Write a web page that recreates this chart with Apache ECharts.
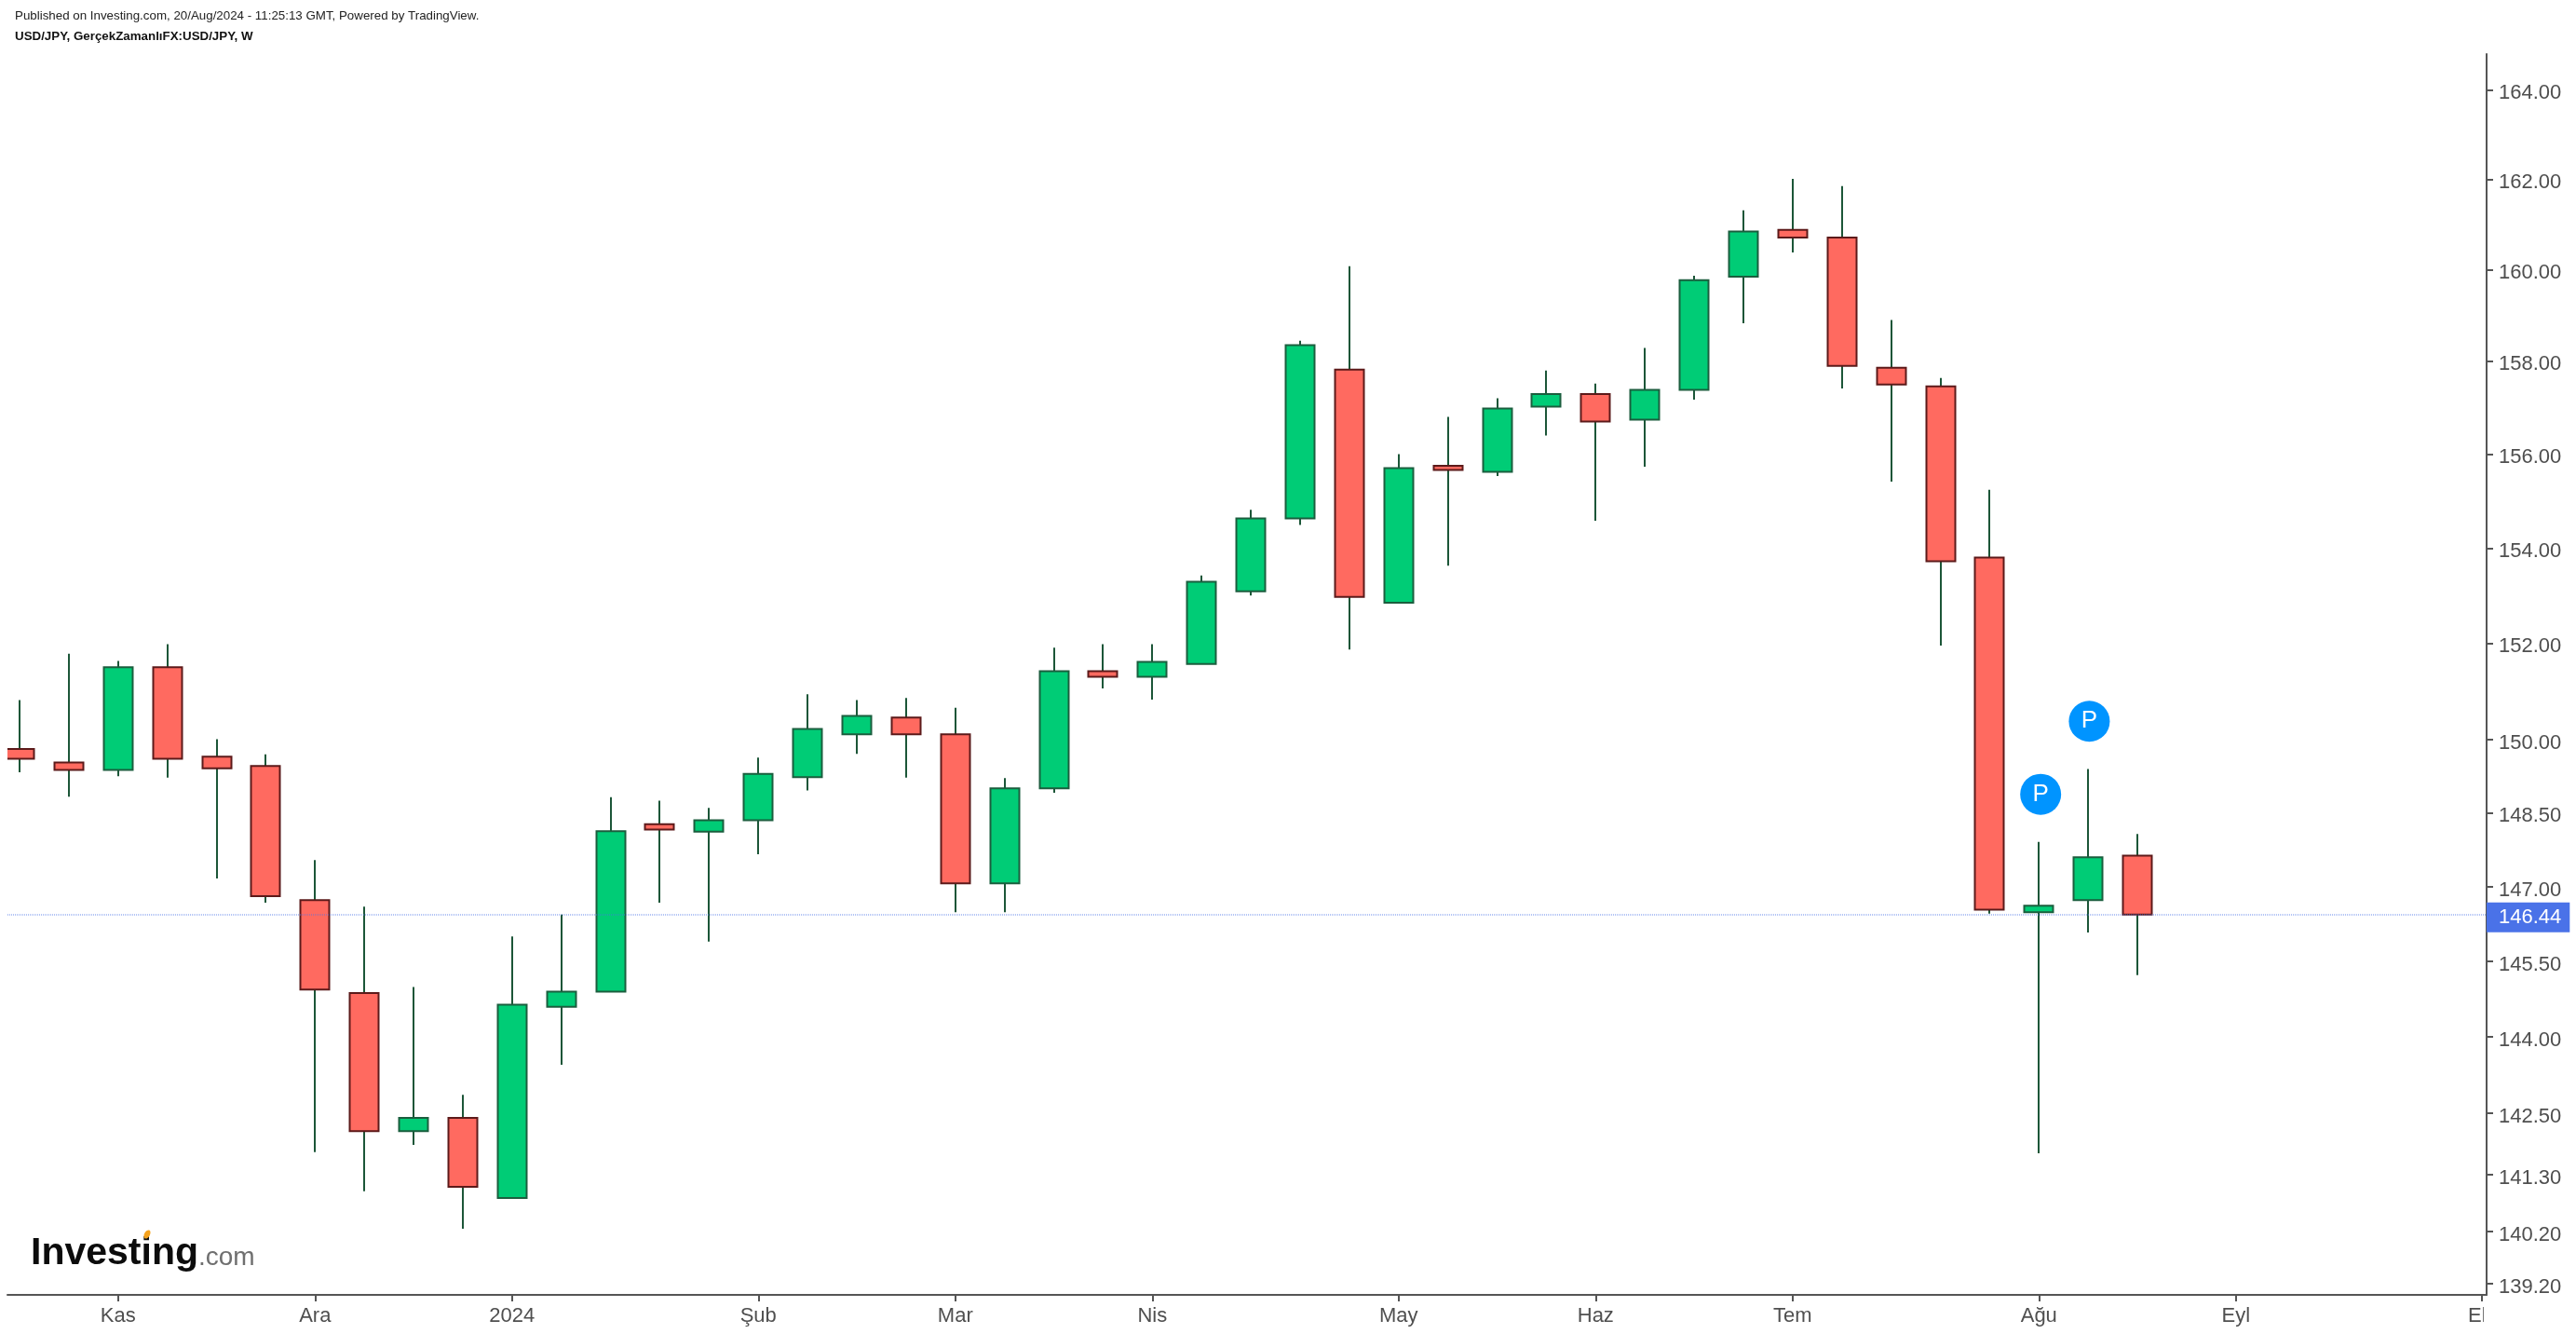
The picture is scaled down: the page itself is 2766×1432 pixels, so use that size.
<!DOCTYPE html>
<html>
<head>
<meta charset="utf-8">
<title>USD/JPY</title>
<script src="https://cdn.jsdelivr.net/npm/echarts@6/dist/echarts.min.js"></script>
<style>
  html, body { margin: 0; padding: 0; background: #fff; }
  #chart { width: 2766px; height: 1432px; }
</style>
</head>
<body>
<div id="chart"></div>
<script>
// haftalik mumlar
const weeks = ['2023-10-23','2023-10-30','2023-11-06','2023-11-13','2023-11-20','2023-11-27','2023-12-04','2023-12-11','2023-12-18','2023-12-25','2024-01-01','2024-01-08','2024-01-15','2024-01-22','2024-01-29','2024-02-05','2024-02-12','2024-02-19','2024-02-26','2024-03-04','2024-03-11','2024-03-18','2024-03-25','2024-04-01','2024-04-08','2024-04-15','2024-04-22','2024-04-29','2024-05-06','2024-05-13','2024-05-20','2024-05-27','2024-06-03','2024-06-10','2024-06-17','2024-06-24','2024-07-01','2024-07-08','2024-07-15','2024-07-22','2024-07-29','2024-08-05','2024-08-12','2024-08-19'];
const opens = [149.81,149.53,149.38,151.50,149.65,149.46,146.73,144.87,142.15,142.41,140.85,144.60,144.90,148.27,148.12,148.35,149.23,150.11,150.46,150.11,147.07,149.00,151.42,151.30,151.57,153.09,154.63,157.82,152.85,155.75,155.62,157.02,157.29,156.74,157.38,159.85,160.88,160.71,157.86,157.46,153.80,146.49,146.73,147.63];
const closes = [149.61,149.38,151.50,149.61,149.41,146.81,144.94,142.15,142.41,141.07,144.64,144.90,148.13,148.16,148.35,149.30,150.22,150.49,150.11,147.07,149.00,151.42,151.30,151.61,153.29,154.63,158.35,152.97,155.70,155.66,156.98,157.29,156.70,157.38,159.77,160.84,160.71,157.90,157.50,153.72,146.54,146.62,147.60,146.44];
const lows = [149.33,148.83,149.25,149.22,147.17,146.68,141.74,140.98,141.88,140.26,140.85,143.45,144.90,146.68,145.90,147.66,148.96,149.71,149.22,146.49,146.49,148.91,151.06,150.83,151.57,153.00,154.49,151.87,152.85,153.63,155.53,156.40,154.58,155.73,157.17,158.83,160.38,157.41,155.41,151.95,146.46,141.72,146.08,145.23];
const highs = [150.82,151.78,151.63,151.98,150.01,149.70,147.54,146.60,144.99,142.86,146.00,146.44,148.82,148.75,148.60,149.63,150.94,150.82,150.86,150.66,149.21,151.91,151.98,151.98,153.42,154.81,158.45,160.08,156.00,156.80,157.20,157.80,157.52,158.29,159.87,161.31,162.01,161.85,158.90,157.64,155.24,147.91,149.40,148.07];

// eksen etiketleri
const monthTicks = ['2023-11-06','2023-12-04','2024-01-01','2024-02-05','2024-03-04','2024-04-01','2024-05-06','2024-06-03','2024-07-01','2024-08-05','2024-09-02','2024-10-07'];
const monthLabels = ['Kas','Ara','2024','Şub','Mar','Nis','May','Haz','Tem','Ağu','Eyl','Eki'];
const priceTicks = [164,162,160,158,156,154,152,150,148.5,147,145.5,144,142.5,141.3,140.2,139.2];
const lastPrice = 146.44;

// "P" isaretleri
const markerDates = ['2024-08-05 06:00:00','2024-08-12 04:00:00'];
const markerPrices = [148.88,150.38];

const FONT = '"Liberation Sans", Arial, sans-serif';
const TEXT = '#4f4f4f';
const AXIS = '#555555';
const toTime = d => echarts.time.parse(d).getTime();
const monthTimes = monthTicks.map(toTime);

const candleData = weeks.map((w, i) => [toTime(w), opens[i], closes[i], lows[i], highs[i]]);

function renderCandle(params, api) {
  const t = api.value(0);
  const o = api.coord([t, api.value(1)]);
  const c = api.coord([t, api.value(2)]);
  const l = api.coord([t, api.value(3)]);
  const h = api.coord([t, api.value(4)]);
  const up = api.value(2) >= api.value(1);
  const x = Math.round(o[0]);
  const bw = 31; // govde genisligi
  const top = Math.min(o[1], c[1]);
  const bottom = Math.max(o[1], c[1]);
  return {
    type: 'group',
    children: [
      { type: 'line', shape: { x1: x, y1: h[1], x2: x, y2: l[1] }, style: { stroke: '#1c5638', lineWidth: 2 } },
      {
        type: 'rect',
        shape: { x: x - bw / 2, y: top, width: bw, height: bottom - top },
        style: { fill: up ? '#00cc76' : '#ff6a60', stroke: up ? '#1b5e3e' : '#5c1a1a', lineWidth: 2 }
      }
    ]
  };
}

const chart = echarts.init(document.getElementById('chart'));
chart.setOption({
  animation: false,
  backgroundColor: '#ffffff',
  title: [
    {
      text: 'Published on Investing.com, 20/Aug/2024 - 11:25:13 GMT, Powered by TradingView.',
      left: 16, top: 11, padding: 0,
      textStyle: { fontFamily: FONT, fontSize: 13.33, fontWeight: 'normal', color: '#222' }
    },
    {
      text: 'USD/JPY, GerçekZamanlıFX:USD/JPY, W',
      left: 16, top: 33, padding: 0,
      textStyle: { fontFamily: FONT, fontSize: 13.33, fontWeight: 'bold', color: '#111' }
    },
    {
      text: '{a|Investing}{b|.com}',
      left: 33, top: 1325, padding: 0,
      textStyle: {
        rich: {
          a: { fontFamily: FONT, fontSize: 41, fontWeight: 'bold', color: '#0c0c0c' },
          b: { fontFamily: FONT, fontSize: 28, fontWeight: 'normal', color: '#6f6f6f', padding: [10, 0, 0, 0] }
        }
      }
    }
  ],
  grid: { left: 8, right: 96, top: 58, bottom: 42 },
  xAxis: {
    type: 'value',
    min: toTime('2023-10-21 06:43:00'),
    max: toTime('2024-10-07 15:07:00'),
    splitLine: { show: false },
    axisLine: { onZero: false, lineStyle: { color: AXIS, width: 2 } },
    axisTick: { length: 7, customValues: monthTimes, lineStyle: { color: AXIS, width: 2 } },
    axisLabel: {
      customValues: monthTimes,
      margin: 12,
      color: TEXT,
      fontSize: 22,
      fontFamily: FONT,
      hideOverlap: false,
      formatter: v => monthLabels[monthTimes.indexOf(v)]
    }
  },
  yAxis: {
    type: 'log',
    logBase: 10,
    position: 'right',
    min: 138.99,
    max: 164.81,
    splitLine: { show: false },
    axisLine: { show: true, lineStyle: { color: AXIS, width: 2 } },
    axisTick: { show: true, length: 7, customValues: priceTicks, lineStyle: { color: AXIS, width: 2 } },
    axisLabel: {
      customValues: priceTicks,
      margin: 13,
      verticalAlign: 'top',
      lineHeight: 7,
      color: TEXT,
      fontSize: 22,
      fontFamily: FONT,
      formatter: v => Number(v).toFixed(2)
    }
  },
  series: [
    {
      name: 'USD/JPY',
      type: 'custom',
      clip: true,
      encode: { x: 0, y: [1, 2, 3, 4] },
      data: candleData,
      renderItem: renderCandle,
      z: 3
    },
    {
      name: 'P',
      type: 'scatter',
      symbol: 'circle',
      symbolSize: 44,
      itemStyle: { color: '#0094ff', opacity: 1 },
      label: { show: true, position: 'inside', formatter: 'P', color: '#fff', fontSize: 26, fontFamily: FONT },
      data: markerDates.map((d, i) => [toTime(d), markerPrices[i]]),
      markLine: {
        silent: true,
        symbol: 'none',
        animation: false,
        lineStyle: { color: 'rgba(74,114,232,0.42)', width: 2, type: [1, 1] },
        label: {
          show: true,
          position: 'end',
          distance: 0,
          offset: [0, 3],
          formatter: String(lastPrice),
          color: '#fff',
          fontSize: 22,
          fontFamily: FONT,
          backgroundColor: '#4a72e8',
          padding: [6, 9, 4, 13]
        },
        data: [{ yAxis: lastPrice }]
      },
      z: 4
    }
  ],
  graphic: [
    // Investing logosundaki turuncu nokta
    { type: 'ellipse', shape: { cx: 158, cy: 1325, rx: 3, ry: 5 }, rotation: -0.5, originX: 158, originY: 1325, style: { fill: '#f5a21c' }, z: 20 },
    // eksen sonunda kirpilan etiketler
    { type: 'rect', shape: { x: 2667, y: 1398, width: 30, height: 30 }, style: { fill: '#fff' }, z: 20 },
    { type: 'rect', shape: { x: 2673, y: 1388, width: 93, height: 10 }, style: { fill: '#fff' }, z: 20 }
  ]
});
</script>
</body>
</html>
